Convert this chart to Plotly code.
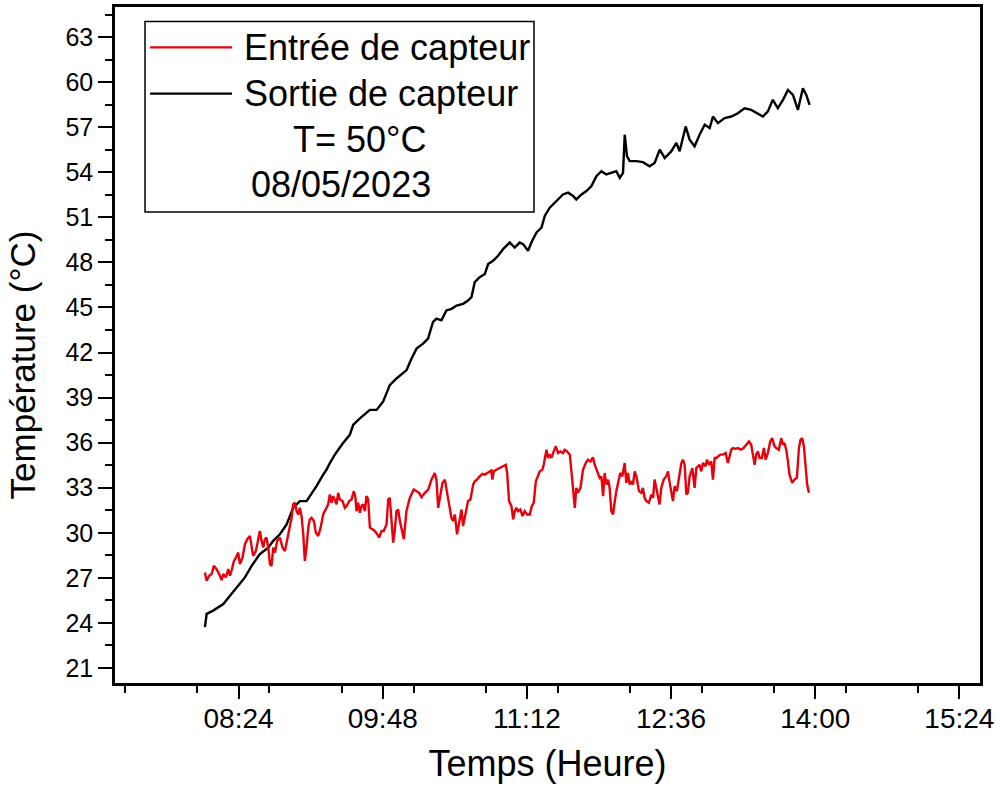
import pandas as pd
import plotly.graph_objects as go

# ---------------- data (minutes after 08:00, temperature in °C) ----------------
sortie_min = [4.4, 5.4, 9.2, 15.1, 19.0, 22.9, 27.7, 31.6, 36.4, 41.3, 44.2, 48.1, 52.0, 55.8,
              59.7, 63.6, 65.5, 69.4, 73.3, 75.3, 77.2, 80.1, 84.9, 88.8, 90.8, 94.7, 100.5,
              104.4, 108.2, 112.1, 116.0, 119.9, 121.9, 124.8, 127.7, 131.5, 134.4, 137.3,
              139.3, 142.2, 145.1, 148.1, 151.0, 154.8, 157.7, 159.7, 161.6, 164.5, 167.5,
              169.4, 172.3, 175.2, 178.1, 182.0, 184.9, 187.8, 189.8, 192.7, 194.6, 197.6,
              200.5, 202.4, 205.3, 208.2, 213.0, 216.0, 218.9, 220.8, 223.8, 226.7, 229.6,
              232.5, 235.4, 238.3, 241.2, 244.1, 246.1, 248.0, 249.0, 250.3, 251.9, 255.8,
              259.6, 263.5, 266.4, 269.4, 272.3, 276.2, 279.1, 281.0, 284.5, 286.8, 289.7,
              292.6, 295.6, 298.5, 300.4, 303.3, 307.2, 311.1, 314.9, 318.8, 322.7, 325.7,
              329.5, 332.4, 335.3, 338.2, 341.2, 344.1, 347.0, 349.9, 352.8, 354.8, 356.7]
sortie_temp = [23.72, 24.60, 24.82, 25.26, 25.81, 26.36, 27.03, 27.80, 28.58, 29.01, 29.46, 29.90,
               30.56, 31.66, 32.11, 32.11, 32.44, 33.10, 33.87, 34.21, 34.64, 35.20, 35.97, 36.52,
               37.19, 37.62, 38.18, 38.18, 38.73, 39.83, 40.27, 40.60, 40.83, 41.60, 42.26, 42.59,
               42.92, 44.03, 44.25, 44.14, 44.80, 44.91, 45.13, 45.24, 45.46, 45.68, 46.68, 47.01,
               47.23, 47.89, 48.11, 48.44, 48.88, 49.32, 48.99, 49.32, 49.21, 48.77, 49.32, 49.99,
               50.32, 51.09, 51.64, 51.97, 52.52, 52.64, 52.42, 52.19, 52.52, 52.75, 53.08, 53.74,
               54.07, 53.85, 53.96, 54.07, 53.63, 53.96, 56.50, 55.07, 54.74, 54.74, 54.67, 54.40,
               54.62, 55.50, 54.95, 55.40, 55.95, 55.40, 57.05, 56.17, 55.73, 56.50, 57.16, 56.94,
               57.71, 57.27, 57.60, 57.71, 57.93, 58.26, 58.15, 57.93, 57.71, 58.05, 58.82, 58.26,
               58.82, 59.48, 59.15, 58.15, 59.59, 59.15, 58.48]

entree_min = [4.4, 5.4, 6.9, 8.3, 9.6, 11.2, 12.7, 14.1, 15.1, 16.6, 18.0, 19.0, 19.9, 21.3, 22.5,
              23.8, 24.8, 26.3, 27.7, 29.1, 30.6, 31.6, 32.5, 34.1, 35.5, 36.4, 37.4, 38.4, 39.3,
              40.3, 41.3, 42.3, 43.2, 44.2, 45.2, 46.5, 48.1, 49.6, 51.0, 52.0, 53.5, 54.9, 55.8,
              56.8, 57.8, 58.8, 59.7, 60.7, 61.7, 62.6, 63.6, 64.6, 65.5, 66.5, 67.9, 69.0, 70.4,
              71.8, 73.3, 74.9, 76.2, 77.2, 78.2, 79.1, 81.1, 82.0, 83.0, 84.6, 85.9, 86.9, 88.5,
              89.8, 91.2, 92.1, 92.7, 93.7, 94.7, 95.6, 96.6, 97.6, 98.5, 99.5, 100.5, 102.0,
              103.4, 104.8, 105.9, 107.3, 108.6, 110.2, 111.2, 112.1, 113.1, 114.1, 115.0, 116.0,
              117.0, 118.0, 120.3, 121.8, 123.8, 126.1, 127.7, 129.2, 130.6, 132.5, 134.5, 136.4,
              138.3, 139.3, 140.3, 141.2, 142.8, 144.2, 145.1, 146.1, 147.1, 148.0, 149.0, 150.0,
              151.3, 152.9, 153.9, 154.8, 155.8, 157.7, 159.1, 160.7, 161.6, 163.0, 164.5, 166.1,
              167.5, 168.8, 170.0, 171.3, 171.9, 172.7, 174.2, 176.2, 178.1, 179.7, 180.5, 181.6,
              183.0, 184.0, 184.9, 185.9, 186.9, 188.2, 189.4, 190.7, 192.1, 193.7, 194.8, 196.0,
              197.2, 198.5, 199.5, 201.0, 201.8, 203.4, 204.3, 205.3, 206.3, 207.6, 208.8, 210.2,
              211.5, 213.1, 214.0, 215.4, 217.0, 218.5, 219.9, 220.8, 221.8, 223.2, 224.7, 226.3,
              227.6, 229.0, 230.5, 231.5, 232.9, 234.4, 235.4, 236.4, 237.3, 238.3, 239.3, 240.2,
              241.2, 242.2, 243.2, 244.1, 246.4, 247.6, 249.0, 249.9, 250.9, 251.9, 252.8, 253.8,
              254.8, 255.8, 257.3, 258.7, 259.6, 260.6, 261.6, 263.1, 264.5, 265.5, 266.4, 267.4,
              268.4, 269.3, 270.3, 271.7, 273.2, 274.2, 275.2, 276.1, 277.1, 278.1, 279.4, 280.6,
              282.0, 282.9, 283.9, 284.9, 285.8, 286.8, 288.4, 289.7, 290.7, 291.7, 292.6, 293.6,
              294.6, 296.1, 296.9, 298.1, 299.4, 300.4, 301.4, 302.3, 303.3, 304.7, 306.2, 307.8,
              309.1, 310.1, 311.1, 312.0, 313.6, 314.9, 316.9, 318.2, 319.8, 321.4, 322.7, 323.7,
              324.7, 325.6, 326.6, 327.6, 328.9, 330.1, 331.1, 332.4, 333.8, 334.9, 336.3, 337.3,
              338.8, 340.2, 341.2, 342.1, 343.1, 344.1, 345.0, 346.6, 347.9, 349.3, 350.5, 351.4,
              352.4, 353.4, 354.4, 355.3, 356.3]
entree_temp = [27.36, 26.81, 27.14, 27.25, 27.80, 27.58, 27.25, 26.85, 27.25, 27.03, 27.58, 27.14,
               27.47, 28.13, 28.35, 28.68, 27.91, 28.35, 29.24, 29.57, 29.79, 29.02, 28.46, 28.79,
               29.57, 30.12, 29.46, 29.02, 29.57, 29.68, 29.02, 27.91, 27.80, 29.02, 28.68, 29.46,
               29.68, 29.02, 28.79, 29.35, 30.12, 31.00, 31.89, 32.00, 31.44, 31.22, 31.66, 31.11,
               29.90, 28.13, 29.02, 30.34, 30.89, 31.00, 30.78, 30.01, 29.79, 30.34, 31.22, 31.66,
               31.89, 32.55, 32.00, 32.44, 31.89, 32.66, 32.22, 32.11, 31.66, 31.77, 32.11, 32.22,
               32.77, 32.33, 31.44, 32.00, 31.33, 31.77, 31.89, 31.44, 32.44, 32.22, 30.34, 30.23,
               30.12, 29.90, 29.68, 30.12, 30.12, 30.56, 32.22, 32.33, 30.78, 29.35, 30.12, 31.44,
               31.55, 30.78, 29.57, 31.44, 32.33, 32.88, 32.77, 32.66, 32.37, 32.66, 32.88, 33.54,
               33.98, 33.54, 31.66, 32.33, 33.32, 33.54, 32.99, 32.11, 31.66, 31.00, 30.78, 31.22,
               29.90, 30.78, 31.55, 30.45, 31.00, 32.11, 32.22, 33.21, 33.43, 33.54, 33.76, 33.92,
               33.87, 33.98, 34.09, 34.14, 33.54, 34.09, 34.20, 34.31, 34.42, 34.53, 33.98, 32.11,
               31.77, 30.89, 31.44, 31.66, 31.44, 31.55, 31.11, 31.44, 31.22, 31.22, 31.77, 32.00,
               33.43, 33.87, 34.09, 34.20, 34.53, 35.53, 34.98, 35.20, 34.98, 35.42, 35.75, 35.31,
               35.42, 35.31, 35.53, 35.42, 35.20, 33.43, 31.66, 32.99, 32.66, 32.99, 34.20, 34.64,
               34.87, 34.75, 35.02, 34.53, 34.09, 33.65, 33.76, 32.44, 33.98, 33.21, 33.54, 32.99,
               31.44, 31.22, 32.11, 32.77, 33.98, 33.76, 34.64, 33.32, 33.98, 33.21, 33.43, 33.21,
               34.09, 33.76, 32.77, 32.66, 32.99, 32.33, 32.11, 32.00, 32.55, 32.33, 33.54, 32.99,
               32.44, 31.89, 32.99, 33.54, 33.76, 34.09, 33.32, 32.66, 32.11, 33.10, 32.77, 33.65,
               34.64, 34.87, 34.53, 32.55, 32.66, 33.76, 34.31, 32.99, 34.31, 34.42, 34.53, 34.09,
               34.64, 34.42, 34.87, 34.53, 34.75, 33.54, 34.98, 34.98, 35.09, 35.20, 35.20, 35.31,
               34.64, 35.09, 35.53, 35.64, 35.59, 35.64, 35.53, 35.64, 35.90, 36.08, 35.86, 35.20,
               34.53, 35.20, 35.42, 34.98, 34.98, 35.64, 34.87, 35.31, 36.08, 36.30, 35.75, 35.64,
               35.53, 36.30, 35.86, 35.97, 35.53, 34.75, 33.87, 33.32, 33.54, 33.65, 35.64, 36.19,
               36.30, 35.75, 34.09, 33.21, 32.66]

series_names = ["Entrée de capteur", "Sortie de capteur"]
legend_extra = ["T= 50°C", "08/05/2023"]
x_title = "Temps (Heure)"
y_title = "Température (°C)"
day = "2023-05-08"

base = pd.Timestamp(day + " 08:00")
def to_time(mins):
    return base + pd.to_timedelta(mins, unit="min")

RED = "#e8000b"
BLACK = "#000000"
FONT = "Liberation Sans, Arial, sans-serif"

fig = go.Figure()
fig.add_trace(go.Scatter(x=to_time(sortie_min), y=sortie_temp, mode="lines",
                         name=series_names[1], line=dict(color=BLACK, width=2.4)))
fig.add_trace(go.Scatter(x=to_time(entree_min), y=entree_temp, mode="lines",
                         name=series_names[0], line=dict(color=RED, width=2.4)))

fig.update_layout(
    width=1000, height=793,
    margin=dict(l=115, r=20, t=4, b=110),
    paper_bgcolor="white", plot_bgcolor="white",
    showlegend=False,
    font=dict(family=FONT, color="black"),
)

fig.update_xaxes(
    type="date",
    range=[day + " 07:12", day + " 15:36"],
    tick0=day + " 08:24", dtick=84 * 60 * 1000, tickformat="%H:%M",
    ticks="outside", ticklen=13, tickwidth=2, tickcolor="black",
    minor=dict(dtick=42 * 60 * 1000, ticks="outside", ticklen=7, tickwidth=2, tickcolor="black", showgrid=False),
    showline=True, linewidth=2.5, linecolor="black", mirror=True,
    showgrid=False, zeroline=False,
    tickfont=dict(size=28, family=FONT),
    ticklabelstandoff=-4,
    title=dict(text=x_title, font=dict(size=36, family=FONT), standoff=18),
)
fig.update_yaxes(
    range=[20, 65], tick0=0, dtick=3,
    ticks="outside", ticklen=14, tickwidth=2, tickcolor="black",
    minor=dict(dtick=1.5, ticks="outside", ticklen=7, tickwidth=2, tickcolor="black", showgrid=False),
    showline=True, linewidth=2.5, linecolor="black", mirror=True,
    showgrid=False, zeroline=False,
    tickfont=dict(size=25, family=FONT),
)

# y-axis title placed as in the reference (slightly below the axis centre)
fig.add_annotation(xref="paper", yref="paper", x=-0.1075, y=0.4698, xanchor="center", yanchor="middle",
                   text=y_title, textangle=-90, showarrow=False, font=dict(size=35, family=FONT))

# legend box drawn by hand (long line samples + two extra text lines)
fig.add_shape(type="rect", xref="paper", yref="paper", x0=0.0347, x1=0.4844, y0=0.6966, y1=0.9785,
              line=dict(color="black", width=1.5), fillcolor="white", layer="above")
fig.add_shape(type="line", xref="paper", yref="paper", x0=0.0405, x1=0.1353, y0=0.9402, y1=0.9402,
              line=dict(color=RED, width=2.4))
fig.add_shape(type="line", xref="paper", yref="paper", x0=0.0405, x1=0.1353, y0=0.8719, y1=0.8719,
              line=dict(color=BLACK, width=2.4))
fig.add_annotation(xref="paper", yref="paper", x=0.1468, y=0.9402, xanchor="left", yanchor="middle",
                   text=series_names[0], showarrow=False, font=dict(size=36, family=FONT))
fig.add_annotation(xref="paper", yref="paper", x=0.1468, y=0.8719, xanchor="left", yanchor="middle",
                   text=series_names[1], showarrow=False, font=dict(size=36, family=FONT))
fig.add_annotation(xref="paper", yref="paper", x=0.2821, y=0.8034, xanchor="center", yanchor="middle",
                   text=legend_extra[0], showarrow=False, font=dict(size=36, family=FONT))
fig.add_annotation(xref="paper", yref="paper", x=0.2613, y=0.7378, xanchor="center", yanchor="middle",
                   text=legend_extra[1], showarrow=False, font=dict(size=36, family=FONT))

fig.write_html("out.html", config={"displayModeBar": False},
               post_script="document.body.style.margin='0px';")
